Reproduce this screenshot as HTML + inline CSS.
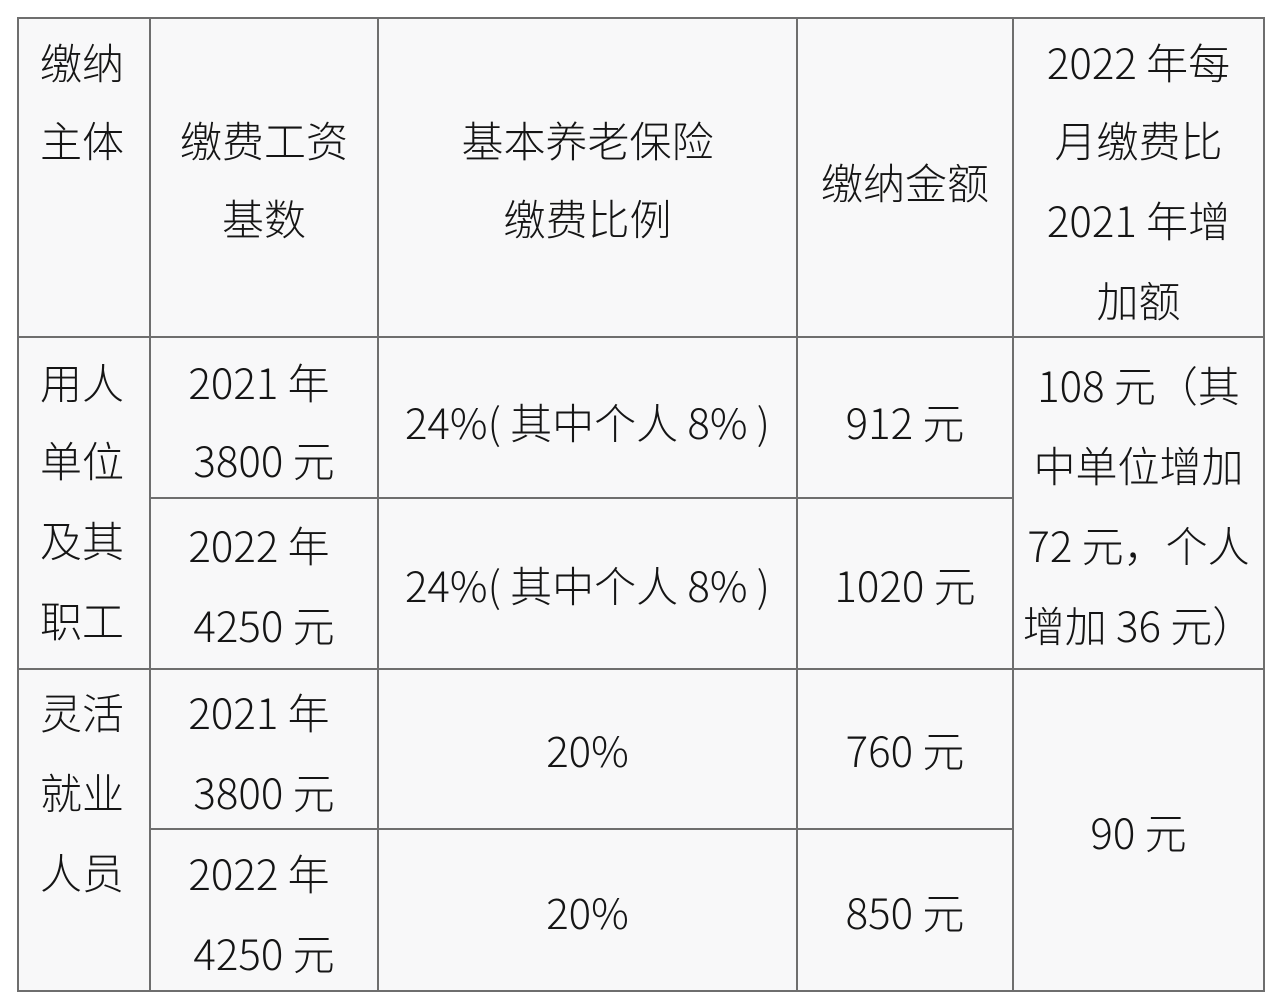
<!DOCTYPE html>
<html><head><meta charset="utf-8"><style>
html,body{margin:0;padding:0;background:#fff;}
body{width:1280px;height:1004px;position:relative;overflow:hidden;font-family:"Noto Sans CJK SC","WenQuanYi Zen Hei",sans-serif;color:#151515;}
.bg{position:absolute;left:18px;top:18px;width:1246px;height:974px;background:#f8f8f9;}
.h,.v{position:absolute;background:#6e6e6e;}
.h{height:2px;}
.v{width:2px;}
.t{position:absolute;height:56px;line-height:56px;font-size:42px;text-align:center;white-space:nowrap;font-weight:300;}
</style></head><body>
<div class="bg"></div>
<div class="h" style="left:17px;top:17px;width:1248px"></div>
<div class="h" style="left:17px;top:336px;width:1248px"></div>
<div class="h" style="left:150px;top:497px;width:864px"></div>
<div class="h" style="left:17px;top:668px;width:1248px"></div>
<div class="h" style="left:150px;top:828px;width:864px"></div>
<div class="h" style="left:17px;top:990px;width:1248px"></div>
<div class="v" style="left:17px;top:17px;height:975px"></div>
<div class="v" style="left:149px;top:17px;height:975px"></div>
<div class="v" style="left:377px;top:17px;height:975px"></div>
<div class="v" style="left:796px;top:17px;height:975px"></div>
<div class="v" style="left:1012px;top:17px;height:975px"></div>
<div class="v" style="left:1263px;top:17px;height:975px"></div>

<div class="t" style="left:15px;width:134px;top:34px">缴纳</div>
<div class="t" style="left:15px;width:134px;top:112px">主体</div>
<div class="t" style="left:15px;width:134px;top:354px">用人</div>
<div class="t" style="left:15px;width:134px;top:432px">单位</div>
<div class="t" style="left:15px;width:134px;top:512px">及其</div>
<div class="t" style="left:15px;width:134px;top:592px">职工</div>
<div class="t" style="left:15px;width:134px;top:684px">灵活</div>
<div class="t" style="left:15px;width:134px;top:764px">就业</div>
<div class="t" style="left:15px;width:134px;top:844px">人员</div>

<div class="t" style="left:151px;width:226px;top:112px">缴费工资</div>
<div class="t" style="left:151px;width:226px;top:190px">基数</div>
<div class="t" style="left:151px;width:216px;top:354px">2021 年</div>
<div class="t" style="left:151px;width:226px;top:432px">3800 元</div>
<div class="t" style="left:151px;width:216px;top:517px">2022 年</div>
<div class="t" style="left:151px;width:226px;top:597px">4250 元</div>
<div class="t" style="left:151px;width:216px;top:684px">2021 年</div>
<div class="t" style="left:151px;width:226px;top:764px">3800 元</div>
<div class="t" style="left:151px;width:216px;top:845px">2022 年</div>
<div class="t" style="left:151px;width:226px;top:925px">4250 元</div>

<div class="t" style="left:379px;width:417px;top:112px">基本养老保险</div>
<div class="t" style="left:379px;width:417px;top:190px">缴费比例</div>
<div class="t" style="left:379px;width:417px;top:394px">24%( 其中个人 8% )</div>
<div class="t" style="left:379px;width:417px;top:557px">24%( 其中个人 8% )</div>
<div class="t" style="left:379px;width:417px;top:722px">20%</div>
<div class="t" style="left:379px;width:417px;top:884px">20%</div>

<div class="t" style="left:798px;width:214px;top:154px">缴纳金额</div>
<div class="t" style="left:798px;width:214px;top:394px">912 元</div>
<div class="t" style="left:798px;width:214px;top:557px">1020 元</div>
<div class="t" style="left:798px;width:214px;top:722px">760 元</div>
<div class="t" style="left:798px;width:214px;top:884px">850 元</div>

<div class="t" style="left:1014px;width:249px;top:34px">2022 年每</div>
<div class="t" style="left:1014px;width:249px;top:112px">月缴费比</div>
<div class="t" style="left:1014px;width:249px;top:192px">2021 年增</div>
<div class="t" style="left:1014px;width:249px;top:272px">加额</div>
<div class="t" style="left:1014px;width:249px;top:357px">108 元（其</div>
<div class="t" style="left:1014px;width:249px;top:437px">中单位增加</div>
<div class="t" style="left:1014px;width:249px;top:517px">72 元，个人</div>
<div class="t" style="left:1014px;width:249px;top:597px">增加 36 元）</div>
<div class="t" style="left:1014px;width:249px;top:804px">90 元</div>
</body></html>
